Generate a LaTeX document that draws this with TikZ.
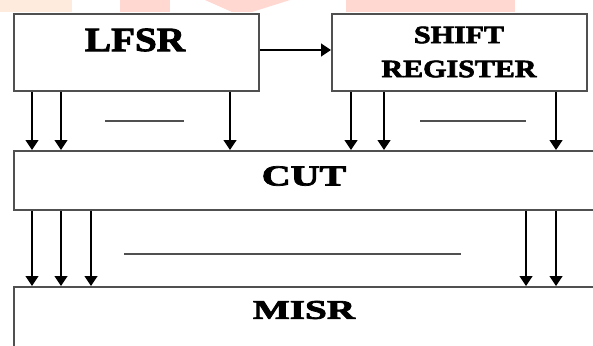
\documentclass[tikz,border=0pt]{standalone}
\usepackage{fontspec}
\setmainfont{Liberation Serif}[BoldFeatures={FakeBold=2.5}]
\usetikzlibrary{arrows.meta}
\definecolor{wmpink}{HTML}{FFD8D2}
\definecolor{wmorange}{HTML}{FFEBDD}
\definecolor{boxgray}{HTML}{505050}
\tikzset{
  blk/.style={draw=boxgray, line width=1.8pt, fill=white, inner sep=0pt, anchor=north west},
  arr/.style={draw=black, line width=1.3pt, -{Triangle[length=10pt,width=13pt]}},
  gap/.style={draw=boxgray, line width=1.6pt},
  lbl/.style={font=\bfseries, inner sep=0pt}
}
\begin{document}
\begin{tikzpicture}[x=1pt,y=-1pt]
\clip (0,0) rectangle (593,345);
\fill[white] (0,0) rectangle (593,345);
% faint watermark remnants at the top
\fill[wmorange] (0,0) rectangle (72,12);
\fill[wmpink] (120,0) rectangle (170,12);
\fill[wmpink] (205,0) -- (290,0) -- (252,12) -- (232,12) -- cycle;
\fill[wmpink] (346,0) rectangle (515,12);
% blocks
\node[blk, minimum width=245pt, minimum height=77pt] (lfsr) at (13,13) {};
\node[blk, minimum width=255pt, minimum height=77pt] (sr) at (331,13) {};
\node[blk, minimum width=600pt, minimum height=59pt] (cut) at (13,150) {};
\node[blk, minimum width=600pt, minimum height=80pt] (misr) at (13,286) {};
% labels
\node[lbl, font=\fontsize{34}{34}\bfseries\selectfont] (tl) at (135,40) {\scalebox{1.15}[1]{LFSR}};
\node[lbl, font=\fontsize{25}{34}\bfseries\selectfont, align=center] (tsr) at (459,52) {\scalebox{1.2}[1]{SHIFT}\\\scalebox{1.2}[1]{REGISTER}};
\node[lbl, font=\fontsize{29}{29}\bfseries\selectfont] (tc) at (304,176) {\scalebox{1.38}[1]{CUT}};
\node[lbl, font=\fontsize{27}{27}\bfseries\selectfont] (tm) at (304,310) {\scalebox{1.45}[1]{MISR}};
% LFSR -> shift register
\draw[arr] (lfsr.east |- 0,50) -- (sr.west |- 0,50);
% LFSR -> CUT
\foreach \x in {32,61,230}{\draw[arr] (lfsr.south -| \x,0) -- (cut.north -| \x,0);}
\draw[gap] (105,121) -- (184,121);
% SR -> CUT
\foreach \x in {351,384,556}{\draw[arr] (sr.south -| \x,0) -- (cut.north -| \x,0);}
\draw[gap] (420,121) -- (526,121);
% CUT -> MISR
\foreach \x in {32,61,91,526,556}{\draw[arr] (cut.south -| \x,0) -- (misr.north -| \x,0);}
\draw[gap] (124,254) -- (461,254);
\end{tikzpicture}
\end{document}
